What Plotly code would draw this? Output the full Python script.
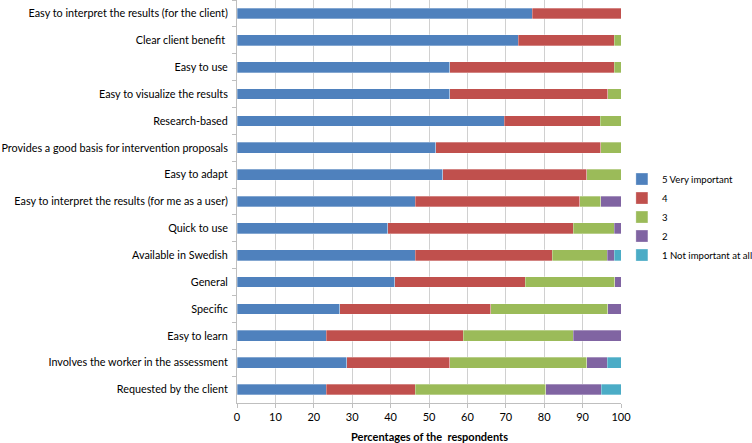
import plotly.graph_objects as go

categories = [
    "Easy to interpret the results (for the client)",
    "Clear client benefit ",
    "Easy to use",
    "Easy to visualize the results",
    "Research-based",
    "Provides a good basis for intervention proposals",
    "Easy to adapt",
    "Easy to interpret the results (for me as a user)",
    "Quick to use",
    "Available in Swedish",
    "General",
    "Specific",
    "Easy to learn",
    "Involves the worker in the assessment",
    "Requested by the client",
]
series_names = ["5 Very important", "4", "3", "2", "1 Not important at all"]
v5 = [76.9, 73.3, 55.4, 55.4, 69.6, 51.8, 53.6, 46.4, 39.3, 46.4, 41.1, 26.8, 23.2, 28.6, 23.2]
v4 = [23.1, 25.0, 42.9, 41.1, 25.0, 42.9, 37.5, 42.9, 48.2, 35.7, 33.9, 39.3, 35.7, 26.8, 23.2]
v3 = [0.0, 1.7, 1.7, 3.5, 5.4, 5.3, 8.9, 5.4, 10.8, 14.3, 23.4, 30.4, 28.6, 35.7, 34.0]
v2 = [0.0, 0.0, 0.0, 0.0, 0.0, 0.0, 0.0, 5.3, 1.7, 1.8, 1.6, 3.5, 12.5, 5.3, 14.5]
v1 = [0.0, 0.0, 0.0, 0.0, 0.0, 0.0, 0.0, 0.0, 0.0, 1.8, 0.0, 0.0, 0.0, 3.6, 5.1]
colors = ["#4F81BD", "#C0504D", "#9BBB59", "#8064A2", "#4BACC6"]
x_ticks = [0, 10, 20, 30, 40, 50, 60, 70, 80, 90, 100]

FONT = "Lato, 'Open Sans', sans-serif"

fig = go.Figure()
for name, vals, col in zip(series_names, [v5, v4, v3, v2, v1], colors):
    fig.add_trace(go.Bar(
        y=categories, x=vals, name=name, orientation="h",
        marker=dict(color=col, line=dict(color="rgba(255,255,255,0.6)", width=0.5)),
    ))

fig.update_layout(
    barmode="stack",
    bargap=0.6,
    width=752, height=443,
    margin=dict(l=237, r=131, t=0, b=40),
    paper_bgcolor="white", plot_bgcolor="white",
    font=dict(family=FONT, size=11, color="#000000"),
    legend=dict(xref="container", yref="container", x=0.827, y=0.51,
                xanchor="left", yanchor="middle",
                font=dict(size=9.6), tracegroupgap=0, itemwidth=30,
                traceorder="normal", bgcolor="rgba(0,0,0,0)"),
    xaxis=dict(range=[0, 100], tickvals=x_ticks, showgrid=True, gridcolor="#D0D0D0",
               gridwidth=1, zeroline=False, showline=True, linecolor="#BFBFBF",
               ticks="outside", ticklen=4, tickcolor="#BFBFBF",
               tickfont=dict(size=11), automargin=False),
    yaxis=dict(categoryorder="array", categoryarray=categories, autorange="reversed",
               showline=True, linecolor="#BFBFBF", ticks="outside", ticklen=4,
               tickcolor="#BFBFBF", tickson="boundaries", showgrid=False,
               tickfont=dict(size=10.8), ticklabelstandoff=6, automargin=False),
    annotations=[dict(text="<b>Percentages of the  respondents</b>", x=0.5, y=-0.083,
                      xref="paper", yref="paper", xanchor="center", yanchor="middle",
                      showarrow=False, font=dict(size=11))],
)

fig.write_html("out.html", config={"displayModeBar": False},
               post_script="document.body.style.margin='0';")
